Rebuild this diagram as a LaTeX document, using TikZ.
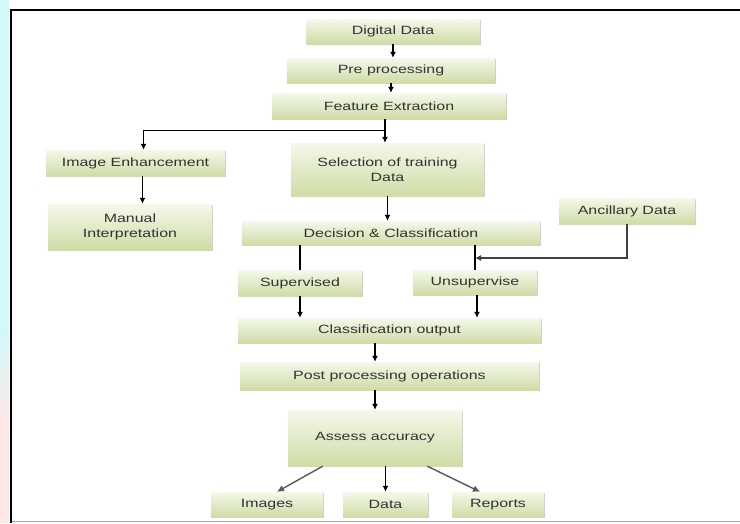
\documentclass[tikz,border=0pt]{standalone}
\usepackage{fontspec}
\setmainfont[FakeStretch=1.33]{Liberation Sans}
\usepackage{tikz}
\usetikzlibrary{arrows.meta,calc,shadows}
\definecolor{boxtop}{HTML}{F5F8EA}
\definecolor{boxbot}{HTML}{CEDCA6}
\definecolor{txt}{HTML}{333333}
\definecolor{leftcyan}{HTML}{D2F8FA}
\definecolor{leftpink}{HTML}{FDE6E6}
\tikzset{
  box/.style={rectangle, inner sep=1pt, align=center, text=txt,
    top color=boxtop, bottom color=boxbot,
    drop shadow={shadow xshift=1.2pt, shadow yshift=-1.2pt, fill=gray!70, opacity=0.55},
    font=\fontsize{12}{15}\selectfont},
  arr/.style={-{Latex[length=6pt,width=6pt]}, line width=1.4pt},
  link/.style={line width=1.4pt},
  diag/.style={-{Latex[length=7pt,width=7pt]}, line width=1.4pt, black!65}
}
\begin{document}
\begin{tikzpicture}[x=1pt,y=-1pt]
\useasboundingbox (0,0) rectangle (740,523);
% frame and page strip
\fill[white] (0,0) rectangle (740,523);
\fill[leftcyan] (0,0) rectangle (9,330);
\shade[top color=leftcyan, bottom color=leftpink] (0,330) rectangle (9,420);
\fill[leftpink] (0,420) rectangle (9,523);
\draw[black!35, line width=1pt] (11,521.5) -- (740,521.5);
\draw[line width=2.6pt] (740,10) -- (11,10) -- (11,523);
% boxes
\node[box, minimum width=174, minimum height=25] (dd) at (393,31.5) {Digital Data};
\node[box, minimum width=208, minimum height=25] (pp) at (391,70.5) {Pre processing};
\node[box, minimum width=234, minimum height=26] (fe) at (389,106) {Feature Extraction};
\node[box, minimum width=179, minimum height=26] (ie) at (135.5,163) {Image Enhancement};
\node[box, minimum width=164, minimum height=46] (mi) at (130,227) {Manual\\Interpretation};
\node[box, minimum width=193, minimum height=53] (sel) at (387.5,169.5) {Selection of training\\Data};
\node[box, minimum width=298, minimum height=24] (dec) at (391,233) {Decision \& Classification};
\node[box, minimum width=136, minimum height=26] (anc) at (627,211) {Ancillary Data};
\node[box, minimum width=123, minimum height=26] (sup) at (300,283) {Supervised};
\node[box, minimum width=124, minimum height=25] (uns) at (475,282.5) {Unsupervise};
\node[box, minimum width=303, minimum height=25] (cls) at (389.5,330.5) {Classification output};
\node[box, minimum width=299, minimum height=28] (post) at (389.5,376) {Post processing operations};
\node[box, minimum width=174, minimum height=56] (as) at (375,438) {Assess accuracy};
\node[box, minimum width=112, minimum height=25] (img) at (267,504.5) {Images};
\node[box, minimum width=85, minimum height=25] (dat) at (385.5,504.5) {Data};
\node[box, minimum width=92, minimum height=25] (rep) at (498,504.5) {Reports};
% connectors
\draw[arr] (dd.south) -- (dd.south |- pp.north);
\draw[arr] (pp.south) -- (pp.south |- fe.north);
\draw[link] ([xshift=-4]fe.south) -- ++(0,11) coordinate (split);
\draw[arr, line width=1.1pt] (split) -| ([xshift=8]ie.north);
\draw[arr] (split) -- (split |- sel.north);
\draw[arr] ([xshift=7]ie.south) -- ([xshift=7]ie.south |- mi.north);
\draw[arr] (sel.south) -- (sel.south |- dec.north);
\draw[link] (dec.south -| sup.north) -- (sup.north);
\draw[link] (dec.south -| uns.north) -- (uns.north);
\coordinate (join) at ($(dec.south -| uns.north)!0.52!(uns.north)$);
\draw[arr, line width=1.1pt, black!75] (anc.south) |- (join);
\draw[arr] (sup.south) -- (sup.south |- cls.north);
\draw[arr] ([xshift=2]uns.south) -- ([xshift=2]uns.south |- cls.north);
\draw[arr] (cls.south -| as.north) -- (post.north -| as.north);
\draw[arr] (post.south -| as.north) -- (as.north);
\draw[diag] ($(as.south west)!0.2!(as.south east)$) -- ([xshift=10]img.north);
\draw[arr] (dat.north |- as.south) -- (dat.north);
\draw[diag] ($(as.south west)!0.8!(as.south east)$) -- ([xshift=-18]rep.north);
\end{tikzpicture}
\end{document}
